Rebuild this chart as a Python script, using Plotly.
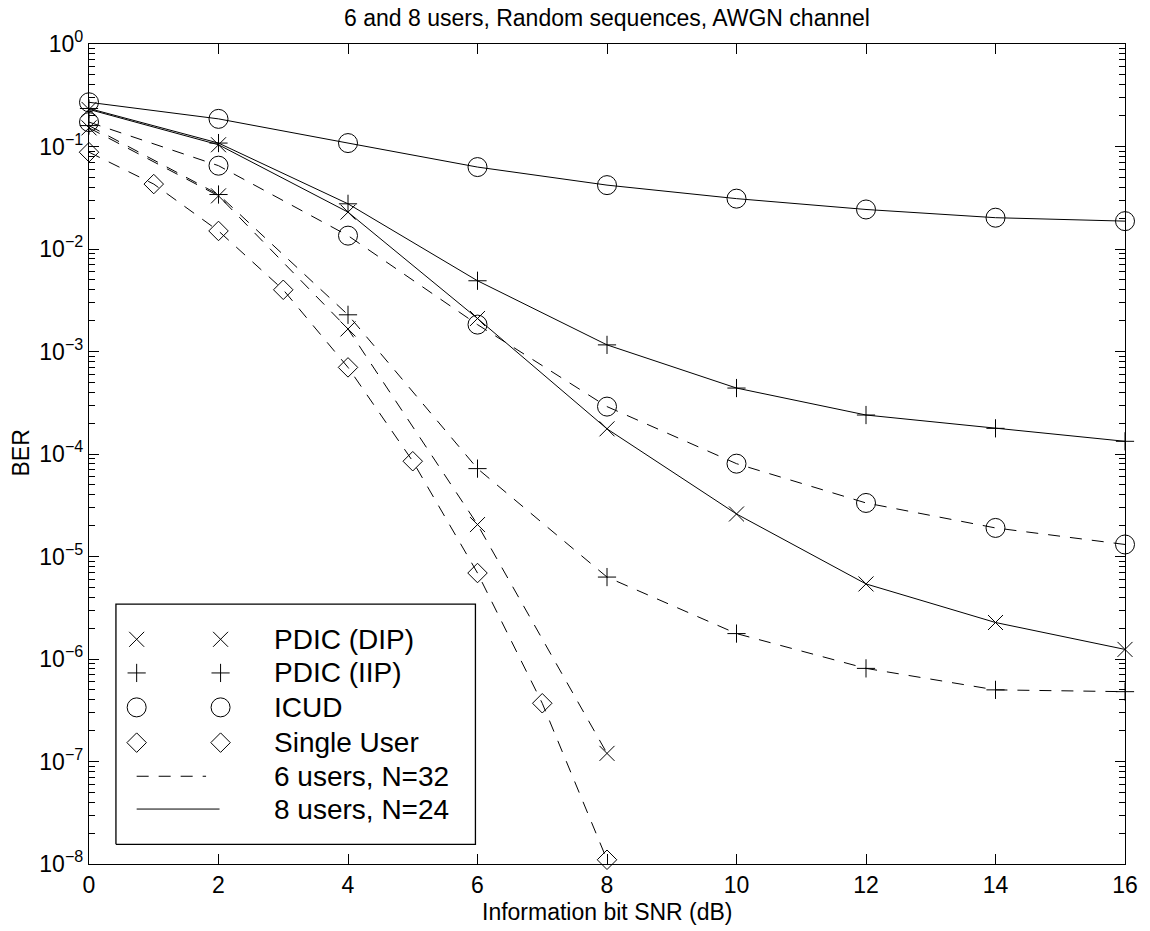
import plotly.graph_objects as go

# ---------------- data ----------------
snr = [0, 2, 4, 6, 8, 10, 12, 14, 16]
snr_6dip = [0, 2, 4, 6, 8]
snr_single = [0, 1, 2, 3, 4, 5, 6, 7, 8]

# 8 users, N=24 (solid)
dip_8 = [0.23, 0.104, 0.0229, 0.0021, 1.76e-4, 2.6e-5, 5.4e-6, 2.27e-6, 1.24e-6]
iip_8 = [0.235, 0.108, 0.0276, 0.0049, 0.00116, 4.4e-4, 2.4e-4, 1.78e-4, 1.33e-4]
icud_8 = [0.27, 0.186, 0.108, 0.063, 0.042, 0.031, 0.0243, 0.0202, 0.0187]

# 6 users, N=32 (dashed)
dip_6 = [0.152, 0.033, 0.00166, 2.05e-5, 1.2e-7]
iip_6 = [0.16, 0.034, 0.00228, 7.2e-5, 6.3e-6, 1.77e-6, 8.1e-7, 5.0e-7, 4.8e-7]
icud_6 = [0.173, 0.065, 0.0135, 0.00183, 2.9e-4, 8.05e-5, 3.33e-5, 1.9e-5, 1.31e-5]

# single user (dashed)
single = [0.088, 0.043, 0.015, 0.0040, 7.0e-4, 8.5e-5, 6.9e-6, 3.7e-7, 1.1e-8]

legend_labels = ["PDIC (DIP)", "PDIC (IIP)", "ICUD", "Single User",
                 "6 users, N=32", "8 users, N=24"]
y_tick_exp = [0, -1, -2, -3, -4, -5, -6, -7, -8]
x_ticks = [0, 2, 4, 6, 8, 10, 12, 14, 16]

# ---------------- styles ----------------
FONT = "Liberation Sans, Arial, Helvetica, sans-serif"
FS_TICK = 23
FS_LAB = 23
FS_LEG = 28
DASH = "12px,10px"
sym = {"dip": "x-thin-open", "iip": "cross-thin-open",
       "icud": "circle-open", "single": "diamond-open"}
msize = {"dip": 15, "iip": 13, "icud": 19, "single": 15}

fig = go.Figure()


def add(x, y, kind, dash):
    fig.add_trace(go.Scatter(
        x=x, y=y, mode="lines+markers",
        line=dict(color="black", width=1, dash=dash),
        marker=dict(symbol=sym[kind], size=msize[kind],
                    color="black", line=dict(color="black", width=1)),
        cliponaxis=False, showlegend=False, hoverinfo="skip"))


add(snr, icud_8, "icud", "solid")
add(snr, iip_8, "iip", "solid")
add(snr, dip_8, "dip", "solid")
add(snr, icud_6, "icud", DASH)
add(snr, iip_6, "iip", DASH)
add(snr_6dip, dip_6, "dip", DASH)
add(snr_single, single, "single", DASH)

# ---------------- hand-made legend on an overlay axis (0..1) ----------------
bx0, bx1, by0, by1 = 0.026, 0.373, 0.024, 0.317
fig.add_trace(go.Scatter(
    x=[bx0, bx1, bx1, bx0, bx0], y=[by0, by0, by1, by1, by0],
    mode="lines", fill="toself", fillcolor="white",
    line=dict(color="black", width=1.3),
    xaxis="x2", yaxis="y2", showlegend=False, hoverinfo="skip"))

rows = [0.274, 0.233, 0.191, 0.148, 0.107, 0.067]
mx = [0.046, 0.127]
kinds = ["dip", "iip", "icud", "single"]
for k, r in zip(kinds, rows[:4]):
    fig.add_trace(go.Scatter(
        x=mx, y=[r, r], mode="markers",
        marker=dict(symbol=sym[k], size=msize[k], color="black",
                    line=dict(color="black", width=1)),
        xaxis="x2", yaxis="y2", showlegend=False, hoverinfo="skip"))
fig.add_trace(go.Scatter(
    x=[0.046, 0.113], y=[rows[4], rows[4]], mode="lines",
    line=dict(color="black", width=1, dash=DASH),
    xaxis="x2", yaxis="y2", showlegend=False, hoverinfo="skip"))
fig.add_trace(go.Scatter(
    x=[0.046, 0.126], y=[rows[5], rows[5]], mode="lines",
    line=dict(color="black", width=1),
    xaxis="x2", yaxis="y2", showlegend=False, hoverinfo="skip"))

annotations = []
for lab, r in zip(legend_labels, rows):
    annotations.append(dict(x=0.177, y=r, xref="x2", yref="y2", text=lab,
                            showarrow=False, xanchor="left", yanchor="middle",
                            font=dict(family=FONT, size=FS_LEG, color="black")))
annotations.append(dict(x=0.5, y=-0.0585, xref="paper", yref="paper",
                        text="Information bit SNR (dB)", showarrow=False,
                        xanchor="center", yanchor="middle",
                        font=dict(family=FONT, size=FS_LAB, color="black")))
annotations.append(dict(x=-0.0653, y=0.501, xref="paper", yref="paper",
                        text="BER", showarrow=False, textangle=-90,
                        xanchor="center", yanchor="middle",
                        font=dict(family=FONT, size=FS_LAB, color="black")))

fig.update_layout(
    width=1150, height=931,
    margin=dict(l=89, r=20, t=44, b=67),
    paper_bgcolor="white", plot_bgcolor="white",
    font=dict(family=FONT, size=FS_TICK, color="black"),
    title=dict(text="6 and 8 users, Random sequences, AWGN channel",
               x=0.5, xref="paper", y=1 - 18 / 931, yref="container",
               xanchor="center", yanchor="middle",
               font=dict(family=FONT, size=FS_LAB, color="black")),
    annotations=annotations,
    xaxis=dict(range=[0, 16], tickvals=x_ticks, ticktext=[str(t) for t in x_ticks],
               ticks="inside", ticklen=10, tickcolor="black", tickwidth=1,
               showline=True, linecolor="black", linewidth=1.3, mirror="allticks",
               showgrid=False, zeroline=False,
               tickfont=dict(family=FONT, size=FS_TICK, color="black")),
    yaxis=dict(type="log", range=[-8, 0],
               tickvals=[10.0 ** e for e in y_tick_exp],
               ticktext=["10<sup>%s</sup>" % (str(e).replace("-", "\u2212")) for e in y_tick_exp],
               ticks="inside", ticklen=10, tickcolor="black", tickwidth=1,
               minor=dict(ticks="inside", ticklen=6, tickcolor="black", tickwidth=1,
                          dtick="D1", showgrid=False),
               showline=True, linecolor="black", linewidth=1.3, mirror="allticks",
               showgrid=False, zeroline=False,
               tickfont=dict(family=FONT, size=FS_TICK, color="black")),
    xaxis2=dict(overlaying="x", range=[0, 1], visible=False, fixedrange=True),
    yaxis2=dict(overlaying="y", range=[0, 1], visible=False, fixedrange=True),
)

fig.write_html("out.html")
